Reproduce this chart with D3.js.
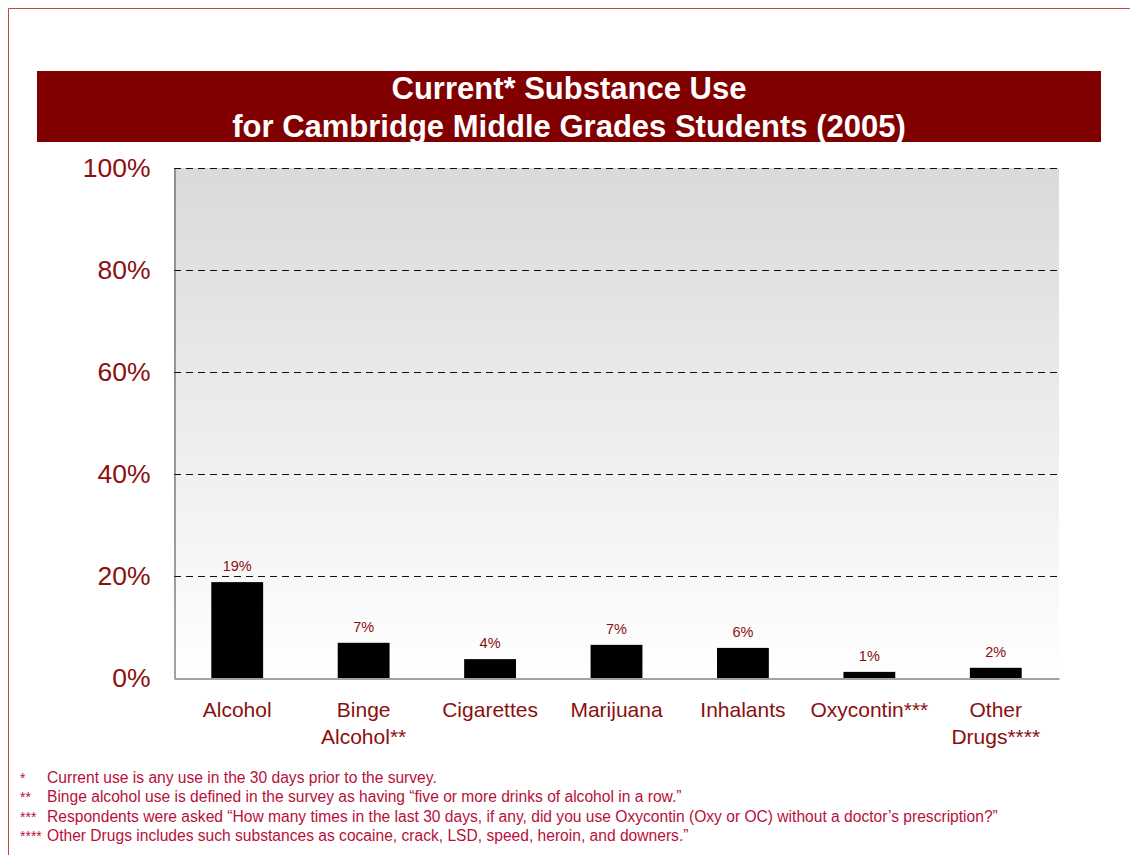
<!DOCTYPE html>
<html><head><meta charset="utf-8">
<script src="https://cdn.jsdelivr.net/npm/d3@7"></script>
<style>body{margin:0;background:#fff;}svg{display:block;font-family:"Liberation Sans",Arial,sans-serif;}</style>
</head><body>
<svg id="c" width="1130" height="855"></svg>
<script>
const categories = [["Alcohol"],["Binge","Alcohol**"],["Cigarettes"],["Marijuana"],["Inhalants"],["Oxycontin***"],["Other","Drugs****"]];
const values = [18.8, 6.9, 3.7, 6.5, 5.9, 1.2, 2.0];
const valueLabels = ["19%","7%","4%","7%","6%","1%","2%"];
const yTicks = [0,20,40,60,80,100];
const titleLines = ["Current* Substance Use","for Cambridge Middle Grades Students (2005)"];
const footMarks = ["*","**","***","****"];
const footTexts = [
 "Current use is any use in the 30 days prior to the survey.",
 "Binge alcohol use is defined in the survey as having \u201cfive or more drinks of alcohol in a row.\u201d",
 "Respondents were asked \u201cHow many times in the last 30 days, if any, did you use Oxycontin (Oxy or OC) without a doctor\u2019s prescription?\u201d",
 "Other Drugs includes such substances as cocaine, crack, LSD, speed, heroin, and downers.\u201d"
];

const svg = d3.select("#c");
const red = "#8b0f0f";
svg.append("path").attr("d","M8.5,855 V8.5 H1130").attr("fill","none").attr("stroke","#b84a4a").attr("stroke-width",1);
svg.append("rect").attr("x",37).attr("y",71).attr("width",1064).attr("height",71).attr("fill","#800000");
svg.selectAll("text.title").data(titleLines).join("text").attr("class","title")
  .attr("x",569).attr("y",(d,i)=>99+i*38).attr("text-anchor","middle")
  .attr("fill","#fff").attr("font-weight","bold").attr("font-size",31).text(d=>d);

const x0=174,x1=1059,y0=678,y1=168;
const x = d3.scaleBand().domain(d3.range(categories.length)).range([x0,x1]).paddingInner(0.59).paddingOuter(0.295);
const y = d3.scaleLinear().domain([0,100]).range([y0,y1]);

const defs = svg.append("defs");
const g = defs.append("linearGradient").attr("id","bg").attr("x1",0).attr("y1",0).attr("x2",0).attr("y2",1);
g.append("stop").attr("offset","0%").attr("stop-color","#dadada");
g.append("stop").attr("offset","100%").attr("stop-color","#ffffff");
svg.append("rect").attr("x",x0).attr("y",y1).attr("width",x1-x0).attr("height",y0-y1).attr("fill","url(#bg)");

svg.append("g").selectAll("line").data(yTicks.filter(t=>t>0)).join("line")
  .attr("x1",x0).attr("x2",x1).attr("y1",d=>y(d)+0.5).attr("y2",d=>y(d)+0.5)
  .attr("stroke","#111").attr("stroke-width",1).attr("stroke-dasharray","7,5");

const ya = svg.append("g").attr("transform",`translate(${x0+0.5},0)`).call(d3.axisLeft(y).tickValues(yTicks).tickSize(0).tickPadding(24).tickFormat(d=>d+"%"));
ya.select(".domain").attr("stroke","#444");
ya.selectAll("text").attr("fill",red).attr("font-size",26.5).attr("font-family","Liberation Sans, Arial, sans-serif");

svg.append("g").selectAll("rect").data(values).join("rect")
  .attr("x",(d,i)=>x(i)).attr("width",x.bandwidth()).attr("y",d=>y(d)).attr("height",d=>y0-y(d)).attr("fill","#000");

const xa = svg.append("g").attr("transform",`translate(0,${y0+0.5})`).call(d3.axisBottom(x).tickSize(0).tickFormat(""));
xa.select(".domain").attr("stroke","#444");

svg.append("g").selectAll("text").data(values).join("text")
  .attr("x",(d,i)=>x(i)+x.bandwidth()/2).attr("y",d=>y(d)-11).attr("text-anchor","middle")
  .attr("fill",red).attr("font-size",14.5).text((d,i)=>valueLabels[i]);

const cl = svg.append("g").selectAll("text").data(categories).join("text")
  .attr("x",(d,i)=>x(i)+x.bandwidth()/2).attr("y",717).attr("text-anchor","middle").attr("fill",red).attr("font-size",21);
cl.selectAll("tspan").data(d=>d).join("tspan").attr("x",function(){return this.parentNode.getAttribute("x");})
  .attr("dy",(d,i)=>i?27:0).text(d=>d);

const fc = "#b8103a";
const fg = svg.append("g").attr("fill",fc);
fg.selectAll("text.m").data(footMarks).join("text").attr("class","m").attr("font-size",14).attr("x",20).attr("y",(d,i)=>783+i*19.3).text(d=>d);
fg.selectAll("text.t").data(footTexts).join("text").attr("class","t").attr("font-size",15.6).attr("x",47).attr("y",(d,i)=>783+i*19.3).text(d=>d);
</script>
</body></html>
